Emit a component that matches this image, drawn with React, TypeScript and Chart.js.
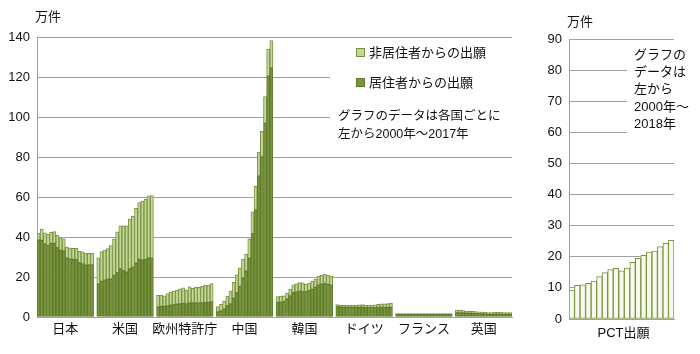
import React, { useEffect, useRef } from 'react';
import { Chart, registerables } from 'chart.js';

Chart.register(...registerables);

// ---- data (万件) ----
const groups = ['日本', '米国', '欧州特許庁', '中国', '韓国', 'ドイツ', 'フランス', '英国'];
const years = ['2000', '2001', '2002', '2003', '2004', '2005', '2006', '2007', '2008', '2009', '2010', '2011', '2012', '2013', '2014', '2015', '2016', '2017'];
const pctYears = ['2000', '2001', '2002', '2003', '2004', '2005', '2006', '2007', '2008', '2009', '2010', '2011', '2012', '2013', '2014', '2015', '2016', '2017', '2018'];

const japanResident = [38.4, 38.3, 36.5, 35.8, 36.8, 36.8, 34.7, 33.3, 33.0, 29.5, 29.0, 28.8, 28.7, 27.2, 26.6, 25.9, 26.0, 26.0];
const japanNonResident = [3.6, 5.6, 5.6, 5.5, 5.5, 5.9, 6.2, 6.3, 6.1, 5.4, 5.5, 5.5, 5.6, 5.6, 6.0, 6.0, 5.8, 5.8];
const usResident = [16.5, 17.8, 18.4, 18.9, 19.0, 20.8, 22.2, 24.1, 23.2, 22.5, 24.2, 24.8, 26.9, 28.8, 28.5, 28.8, 29.5, 29.4];
const usNonResident = [13.1, 14.9, 15.0, 15.3, 16.7, 18.3, 20.4, 21.5, 22.4, 23.1, 24.8, 25.6, 27.4, 28.4, 29.4, 30.1, 31.1, 31.3];
const epoResident = [5.0, 5.3, 5.3, 5.6, 5.9, 6.2, 6.4, 6.6, 6.8, 6.6, 7.0, 7.0, 7.1, 7.1, 7.1, 7.2, 7.3, 7.6];
const epoNonResident = [5.8, 5.7, 5.3, 6.1, 6.5, 6.7, 7.1, 7.5, 7.8, 6.9, 8.1, 7.3, 7.8, 7.7, 8.2, 8.8, 8.6, 9.1];
const chinaResident = [2.6, 3.0, 4.0, 5.7, 6.6, 9.3, 12.2, 15.3, 19.5, 22.9, 29.3, 41.6, 53.5, 70.5, 80.1, 96.8, 120.5, 124.6];
const chinaNonResident = [2.6, 3.3, 4.0, 4.8, 6.4, 8.0, 8.9, 9.2, 9.5, 8.6, 9.8, 11.0, 11.8, 12.0, 12.7, 13.4, 13.4, 13.6];
const koreaResident = [7.3, 7.4, 7.7, 9.0, 10.5, 12.2, 12.5, 12.9, 12.7, 12.7, 13.2, 13.8, 14.8, 16.0, 16.4, 16.7, 16.3, 15.9];
const koreaNonResident = [2.9, 3.1, 2.9, 2.9, 3.5, 3.9, 4.1, 4.3, 4.4, 3.7, 3.8, 4.1, 4.1, 4.5, 4.6, 4.7, 4.6, 4.6];
const germanyResident = [5.2, 5.0, 4.8, 4.8, 4.9, 4.8, 4.8, 4.8, 4.9, 4.7, 4.7, 4.7, 4.7, 4.7, 4.8, 4.7, 4.8, 4.8];
const germanyNonResident = [1.0, 1.0, 1.0, 1.1, 1.0, 1.1, 1.2, 1.3, 1.3, 1.3, 1.3, 1.3, 1.4, 1.6, 1.8, 1.9, 1.9, 2.0];
const franceResident = [1.4, 1.4, 1.4, 1.4, 1.4, 1.4, 1.4, 1.4, 1.4, 1.4, 1.5, 1.4, 1.5, 1.5, 1.4, 1.4, 1.4, 1.4];
const franceNonResident = [0.3, 0.3, 0.3, 0.3, 0.3, 0.3, 0.3, 0.3, 0.3, 0.3, 0.2, 0.3, 0.2, 0.2, 0.3, 0.3, 0.3, 0.3];
const ukResident = [2.2, 2.1, 2.1, 2.0, 1.8, 1.8, 1.7, 1.7, 1.7, 1.6, 1.5, 1.5, 1.5, 1.5, 1.5, 1.5, 1.4, 1.3];
const ukNonResident = [1.2, 1.2, 1.1, 1.0, 1.0, 1.0, 1.0, 0.9, 0.8, 0.7, 0.7, 0.7, 0.8, 0.8, 0.8, 0.7, 0.8, 0.9];
const pctApplications = [9.3, 10.8, 11.0, 11.5, 12.2, 13.6, 14.9, 15.9, 16.3, 15.5, 16.4, 18.2, 19.5, 20.5, 21.5, 21.8, 23.3, 24.3, 25.3];

const residentByGroup = [japanResident, usResident, epoResident, chinaResident, koreaResident, germanyResident, franceResident, ukResident];
const nonResidentByGroup = [japanNonResident, usNonResident, epoNonResident, chinaNonResident, koreaNonResident, germanyNonResident, franceNonResident, ukNonResident];

const legendNonResident = '非居住者からの出願';
const legendResident = '居住者からの出願';
const noteLeft = ['グラフのデータは各国ごとに', '左から2000年～2017年'];
const noteRight = ['グラフの', 'データは', '左から', '2000年～', '2018年'];
const unitLabel = '万件';
const pctLabel = 'PCT出願';

// ---- styles ----
const DARK = '#77933C';
const DARK_BORDER = '#5E7A2A';
const LIGHT = '#C3D69B';
const PALE = '#F5F9EE';
const GRID = '#A0A0A0';
const TEXT = '#111';
const NUM_FONT = "'Liberation Sans', Arial, 'Noto Sans CJK JP', sans-serif";
const JP_FONT = "'Liberation Sans', 'Noto Sans CJK JP', sans-serif";

// build category table with one empty slot between groups
const labels: string[] = [];
const residentData: (number | null)[] = [];
const nonResidentData: (number | null)[] = [];
const groupStarts: number[] = [];
groups.forEach((g, gi) => {
  if (gi > 0) {
    labels.push('');
    residentData.push(null);
    nonResidentData.push(null);
  }
  groupStarts.push(labels.length);
  years.forEach((y, yi) => {
    labels.push(g + ' ' + y);
    residentData.push(residentByGroup[gi][yi]);
    nonResidentData.push(nonResidentByGroup[gi][yi]);
  });
});

const leftOverlay = {
  id: 'leftOverlay',
  beforeDatasetsDraw(chart: any) {
    const { ctx, chartArea } = chart;
    ctx.save();
    ctx.fillStyle = '#fff';
    ctx.fillRect(330, chartArea.top + 6, chartArea.right - 330 + 1, 108);
    ctx.restore();
  },
  afterDraw(chart: any) {
    const { ctx, scales } = chart;
    const x = scales.x;
    ctx.save();
    ctx.fillStyle = TEXT;
    ctx.textBaseline = 'middle';
    // unit
    ctx.font = '13px ' + JP_FONT;
    ctx.textAlign = 'left';
    ctx.fillText(unitLabel, 35, 17);
    // group labels
    ctx.textAlign = 'center';
    groups.forEach((g, gi) => {
      const s = groupStarts[gi];
      const cx = (x.getPixelForValue(s) + x.getPixelForValue(s + years.length - 1)) / 2;
      ctx.fillText(g, cx, 329);
    });
    // legend
    ctx.textAlign = 'left';
    ctx.fillStyle = LIGHT;
    ctx.fillRect(356.5, 48.5, 8, 8);
    ctx.strokeStyle = DARK;
    ctx.lineWidth = 1;
    ctx.strokeRect(356.5, 48.5, 8, 8);
    ctx.fillStyle = DARK;
    ctx.fillRect(356.5, 78.5, 8, 8);
    ctx.strokeStyle = DARK_BORDER;
    ctx.strokeRect(356.5, 78.5, 8, 8);
    ctx.fillStyle = TEXT;
    ctx.font = '13px ' + JP_FONT;
    ctx.fillText(legendNonResident, 369, 53);
    ctx.fillText(legendResident, 369, 83);
    ctx.font = '12.5px ' + JP_FONT;
    ctx.fillText(noteLeft[0], 338, 117);
    ctx.fillText(noteLeft[1], 338, 135);
    ctx.restore();
  },
};

const rightOverlay = {
  id: 'rightOverlay',
  beforeDatasetsDraw(chart: any) {
    const { ctx, chartArea } = chart;
    ctx.save();
    ctx.fillStyle = '#fff';
    ctx.fillRect(102, chartArea.top + 6, chartArea.right - 102 + 1, 96);
    ctx.restore();
  },
  afterDraw(chart: any) {
    const { ctx, scales } = chart;
    const x = scales.x;
    ctx.save();
    ctx.fillStyle = TEXT;
    ctx.textBaseline = 'middle';
    ctx.font = '13px ' + JP_FONT;
    ctx.textAlign = 'left';
    ctx.fillText(unitLabel, 42, 22);
    noteRight.forEach((t, i) => ctx.fillText(t, 109, 55 + i * 17.4));
    ctx.textAlign = 'center';
    const cx = (x.getPixelForValue(0) + x.getPixelForValue(pctYears.length - 1)) / 2;
    ctx.fillText(pctLabel, cx + 2, 333);
    ctx.restore();
  },
};

function LeftChart() {
  const ref = useRef<HTMLCanvasElement>(null);
  useEffect(() => {
    if (!ref.current) return;
    const chart = new Chart(ref.current, {
      type: 'bar',
      data: {
        labels,
        datasets: [
          {
            label: legendResident,
            data: residentData,
            backgroundColor: DARK,
            borderColor: DARK_BORDER,
            borderWidth: 1,
            borderSkipped: false,
            barPercentage: 1,
            categoryPercentage: 1,
          },
          {
            label: legendNonResident,
            data: nonResidentData,
            backgroundColor: LIGHT,
            borderColor: DARK,
            borderWidth: 1,
            borderSkipped: false,
            barPercentage: 1,
            categoryPercentage: 1,
          },
        ],
      },
      options: {
        animation: false,
        responsive: false,
        devicePixelRatio: 1,
        layout: { padding: { top: 37, right: 13, bottom: 17, left: 0 } },
        plugins: { legend: { display: false }, tooltip: { enabled: false } },
        scales: {
          x: {
            stacked: true,
            ticks: { display: false },
            grid: { display: false },
            border: { display: true, color: GRID },
            afterFit: (s: any) => { s.height = 20; },
          },
          y: {
            stacked: true,
            min: 0,
            max: 140,
            ticks: { stepSize: 20, color: TEXT, font: { size: 13, family: NUM_FONT }, padding: 7 },
            grid: { color: GRID, drawTicks: false },
            border: { display: true, color: GRID },
            afterFit: (s: any) => { s.width = 37; },
          },
        },
      },
      plugins: [leftOverlay],
    } as any);
    return () => chart.destroy();
  }, []);
  return <canvas ref={ref} width={525} height={354} style={{ position: 'absolute', left: 0, top: 0 }} />;
}

function RightChart() {
  const ref = useRef<HTMLCanvasElement>(null);
  useEffect(() => {
    if (!ref.current) return;
    const chart = new Chart(ref.current, {
      type: 'bar',
      data: {
        labels: pctYears,
        datasets: [
          {
            label: pctLabel,
            data: pctApplications,
            backgroundColor: PALE,
            borderColor: DARK,
            borderWidth: 1,
            borderSkipped: false,
            barPercentage: 1,
            categoryPercentage: 1,
          },
        ],
      },
      options: {
        animation: false,
        responsive: false,
        devicePixelRatio: 1,
        layout: { padding: { top: 39, right: 26, bottom: 15, left: 0 } },
        plugins: { legend: { display: false }, tooltip: { enabled: false } },
        scales: {
          x: {
            ticks: { display: false },
            grid: { display: false },
            border: { display: true, color: GRID },
            afterFit: (s: any) => { s.height = 20; },
          },
          y: {
            min: 0,
            max: 90,
            ticks: { stepSize: 10, color: TEXT, font: { size: 13, family: NUM_FONT }, padding: 7 },
            grid: { color: GRID, drawTicks: false },
            border: { display: true, color: GRID },
            afterFit: (s: any) => { s.width = 44; },
          },
        },
      },
      plugins: [rightOverlay],
    } as any);
    return () => chart.destroy();
  }, []);
  return <canvas ref={ref} width={175} height={354} style={{ position: 'absolute', left: 525, top: 0 }} />;
}

export default function App() {
  return (
    <div style={{ position: 'fixed', left: 0, top: 0, width: 700, height: 354, background: '#fff', overflow: 'hidden' }}>
      <LeftChart />
      <RightChart />
    </div>
  );
}
